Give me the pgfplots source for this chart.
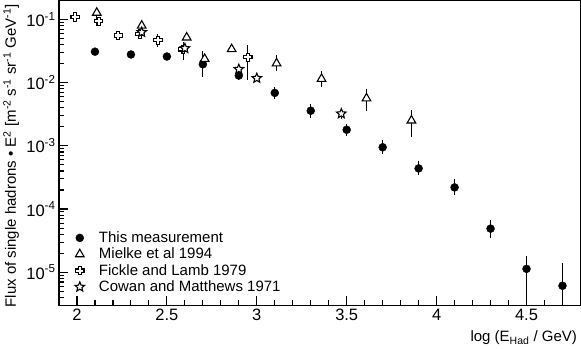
\documentclass[border=0pt]{standalone}
\usepackage{fontspec}
\setmainfont{Liberation Sans}
\usepackage{pgfplots}
\pgfplotsset{compat=1.18}

% open cross (ROOT marker 28)
\pgfdeclareplotmark{ocross}{%
  \pgfpathmoveto{\pgfqpoint{-0.38\pgfplotmarksize}{\pgfplotmarksize}}%
  \pgfpathlineto{\pgfqpoint{0.38\pgfplotmarksize}{\pgfplotmarksize}}%
  \pgfpathlineto{\pgfqpoint{0.38\pgfplotmarksize}{0.38\pgfplotmarksize}}%
  \pgfpathlineto{\pgfqpoint{\pgfplotmarksize}{0.38\pgfplotmarksize}}%
  \pgfpathlineto{\pgfqpoint{\pgfplotmarksize}{-0.38\pgfplotmarksize}}%
  \pgfpathlineto{\pgfqpoint{0.38\pgfplotmarksize}{-0.38\pgfplotmarksize}}%
  \pgfpathlineto{\pgfqpoint{0.38\pgfplotmarksize}{-\pgfplotmarksize}}%
  \pgfpathlineto{\pgfqpoint{-0.38\pgfplotmarksize}{-\pgfplotmarksize}}%
  \pgfpathlineto{\pgfqpoint{-0.38\pgfplotmarksize}{-0.38\pgfplotmarksize}}%
  \pgfpathlineto{\pgfqpoint{-\pgfplotmarksize}{-0.38\pgfplotmarksize}}%
  \pgfpathlineto{\pgfqpoint{-\pgfplotmarksize}{0.38\pgfplotmarksize}}%
  \pgfpathlineto{\pgfqpoint{-0.38\pgfplotmarksize}{0.38\pgfplotmarksize}}%
  \pgfpathclose
  \pgfusepathqfillstroke}

% open five-point star (ROOT marker 30)
\pgfdeclareplotmark{ostar}{%
  \pgfpathmoveto{\pgfpointpolar{90}{\pgfplotmarksize}}%
  \pgfpathlineto{\pgfpointpolar{126}{0.45\pgfplotmarksize}}%
  \pgfpathlineto{\pgfpointpolar{162}{\pgfplotmarksize}}%
  \pgfpathlineto{\pgfpointpolar{198}{0.45\pgfplotmarksize}}%
  \pgfpathlineto{\pgfpointpolar{234}{\pgfplotmarksize}}%
  \pgfpathlineto{\pgfpointpolar{270}{0.45\pgfplotmarksize}}%
  \pgfpathlineto{\pgfpointpolar{306}{\pgfplotmarksize}}%
  \pgfpathlineto{\pgfpointpolar{342}{0.45\pgfplotmarksize}}%
  \pgfpathlineto{\pgfpointpolar{18}{\pgfplotmarksize}}%
  \pgfpathlineto{\pgfpointpolar{54}{0.45\pgfplotmarksize}}%
  \pgfpathclose
  \pgfusepathqfillstroke}

\pgfplotstableread{
x     y          ep         em
2.1   0.031      0          0
2.3   0.028      0          0
2.5   0.026      0          0
2.7   0.0196     0.0118     0.0074
2.9   0.013      0.0020     0.0018
3.1   0.0069     0.0018     0.0014
3.3   0.0036     0.00104    0.00081
3.5   0.0018     0.00044    0.00035
3.7   0.00095    0.00027    0.00021
3.9   0.00044    0.00013    0.00010
4.1   0.00022    0.000074   0.000055
4.3   0.000049   0.000019   0.0000136
4.5   0.0000113  0.0000067  0.0000071
4.7   0.0000061  0.0000079  0.0000059
}\thismeas

\pgfplotstableread{
x     y        ep       em
2.11  0.128    0.025    0.021
2.36  0.080    0.0125   0.0108
2.61  0.052    0        0
2.71  0.0238   0        0
2.86  0.034    0        0
3.11  0.0202   0.0068   0.0051
3.36  0.0115   0.00386  0.0029
3.61  0.00565  0.00237  0.00212
3.86  0.00252  0.00123  0.00114
}\mielke

\pgfplotstableread{
x     y        ep       em
1.99  0.110    0        0
2.12  0.094    0        0
2.23  0.056    0        0
2.35  0.059    0        0
2.45  0.047    0.0129   0.0101
2.59  0.0337   0.0107   0.0108
2.95  0.0253   0.0142   0.0142
}\fickle

\pgfplotstableread{
x     y        ep       em
2.36  0.063    0        0
2.60  0.035    0        0
2.90  0.0164   0        0
3.00  0.0118   0        0
3.47  0.00324  0.00064  0.00054
}\cowan

\begin{document}
\begin{tikzpicture}
\begin{axis}[
  scale only axis,
  width=522pt, height=305pt,
  ymode=log,
  xmin=1.9, xmax=4.8,
  ymin=3e-6, ymax=0.2,
  axis line style={line width=1.1pt},
  every tick/.style={line width=1.1pt, black},
  tick align=inside,
  xtick pos=left, ytick pos=left,
  major tick length=9pt, minor tick length=5pt,
  xtick={2,2.5,3,3.5,4,4.5},
  xticklabels={2,2.5,3,3.5,4,4.5},
  minor xtick={2.1,2.2,2.3,2.4,2.6,2.7,2.8,2.9,3.1,3.2,3.3,3.4,3.6,3.7,3.8,3.9,4.1,4.2,4.3,4.4,4.6,4.7},
  ytick={1e-5,1e-4,1e-3,1e-2,1e-1},
  yticklabels={10\textsuperscript{-5},10\textsuperscript{-4},10\textsuperscript{-3},10\textsuperscript{-2},10\textsuperscript{-1}},
  minor ytick={4e-6,5e-6,6e-6,7e-6,8e-6,9e-6,
    2e-5,3e-5,4e-5,5e-5,6e-5,7e-5,8e-5,9e-5,
    2e-4,3e-4,4e-4,5e-4,6e-4,7e-4,8e-4,9e-4,
    2e-3,3e-3,4e-3,5e-3,6e-3,7e-3,8e-3,9e-3,
    2e-2,3e-2,4e-2,5e-2,6e-2,7e-2,8e-2,9e-2,2e-1},
  ticklabel style={font=\fontsize{16.5}{19}\selectfont},
  xlabel={log (E\textsubscript{Had} / GeV)},
  xlabel style={at={(axis description cs:1,0)}, anchor=north east, yshift=-22pt,
    font=\fontsize{15}{18}\selectfont},
  ylabel={Flux of single hadrons • E\textsuperscript{2} [m\textsuperscript{-2} s\textsuperscript{-1} sr\textsuperscript{-1} GeV\textsuperscript{-1}]},
  ylabel style={at={(axis description cs:-0.07,1)}, anchor=south east,
    font=\fontsize{15}{18}\selectfont},
  legend style={at={(axis description cs:0.018,0.255)}, anchor=north west,
    draw=none, fill=none, font=\fontsize{15}{15.5}\selectfont, row sep=0pt},
  legend cell align=left,
  legend image code/.code={%
    \path (0pt,0pt) (25pt,0pt);
    \draw[#1] plot coordinates {(8pt,0pt)};},
  error bars/y dir=both, error bars/y explicit,
  error bars/error mark=none,
  error bars/error bar style={line width=1.1pt, black},
]
\addplot+[only marks, black, mark=*, mark size=4pt, mark options={fill=black}]
  table[x=x, y=y, y error plus=ep, y error minus=em] {\thismeas};
\addlegendentry{This measurement}
\addplot+[only marks, black, mark=triangle*, mark size=5pt,
  mark options={fill=white, line width=1.1pt}]
  table[x=x, y=y, y error plus=ep, y error minus=em] {\mielke};
\addlegendentry{Mielke et al 1994}
\addplot+[only marks, black, mark=ocross, mark size=4.2pt,
  mark options={fill=white, line width=1.1pt}]
  table[x=x, y=y, y error plus=ep, y error minus=em] {\fickle};
\addlegendentry{Fickle and Lamb 1979}
\addplot+[only marks, black, mark=ostar, mark size=5pt,
  mark options={fill=white, line width=1.1pt}]
  table[x=x, y=y, y error plus=ep, y error minus=em] {\cowan};
\addlegendentry{Cowan and Matthews 1971}
\end{axis}
\end{tikzpicture}
\end{document}
